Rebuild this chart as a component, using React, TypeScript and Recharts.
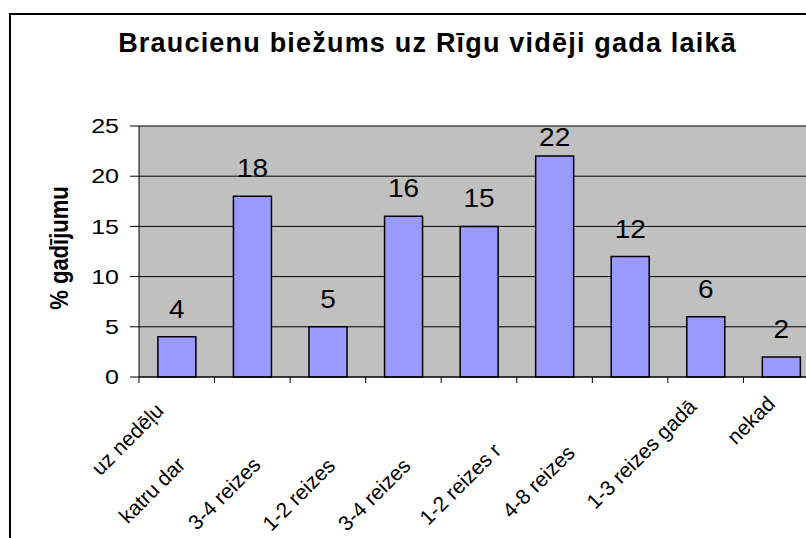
import React from 'react';
import { BarChart, Bar, XAxis, YAxis, CartesianGrid, LabelList } from 'recharts';

const title = 'Braucienu biežums uz Rīgu vidēji gada laikā';
const yAxisTitle = '% gadījumu';
const categories = [
  'uz nedēļu',
  'katru dar',
  '3-4 reizes',
  '1-2 reizes',
  '3-4 reizes',
  '1-2 reizes r',
  '4-8 reizes',
  '1-3 reizes gadā',
  'nekad',
];
const values = [4, 18, 5, 16, 15, 22, 12, 6, 2];
const yTicks = [0, 5, 10, 15, 20, 25];

const data = categories.map((c, i) => ({ key: 'c' + i, label: c, value: values[i] }));

// layout / style constants
const FONT = '"Liberation Sans", Arial, sans-serif';
const PLOT_TOP = 126;
const LABEL_SHIFT = [12, 66, 66, 67, 67, 52, 54, 8, 5];
const VAL_FONT = 25;
const VAL_STRETCH = 1.12;
const TICK_FONT = 20;
const TICK_STRETCH = 1.25;

const XTick = (props: any) => {
  const { x, y, payload, index } = props;
  const i = typeof index === 'number' ? index : 0;
  const half = payload && typeof payload.offset === 'number' && payload.offset > 0 ? payload.offset : 37.78;
  const axisY = y - 8;
  const k = LABEL_SHIFT[i] ?? 0;
  const ax = x - k;
  const ay = axisY + 23 + k;
  return (
    <g>
      <line x1={x - half} x2={x - half} y1={axisY} y2={axisY + 6} stroke="#000" strokeWidth={1} />
      {i === categories.length - 1 && (
        <line x1={x + half} x2={x + half} y1={axisY} y2={axisY + 6} stroke="#000" strokeWidth={1} />
      )}
      <text
        x={ax}
        y={ay}
        transform={`rotate(-45 ${ax} ${ay})`}
        textAnchor="end"
        fontSize={21}
        fontFamily={FONT}
        fill="#000"
      >
        {categories[i]}
      </text>
    </g>
  );
};

const YTick = (props: any) => {
  const { x, y, payload } = props;
  return (
    <text
      transform={`translate(${x} ${y}) scale(${TICK_STRETCH} 1)`}
      x={0}
      y={0}
      dy="0.355em"
      textAnchor="end"
      fontSize={TICK_FONT}
      fontFamily={FONT}
      fill="#000"
    >
      {payload ? payload.value : ''}
    </text>
  );
};

const ValueLabel = (props: any) => {
  const { x, y, width, value } = props;
  const cx = Number(x) + Number(width) / 2;
  const base = Math.max(Number(y) - 19, PLOT_TOP + 20);
  return (
    <text
      transform={`translate(${cx} ${base}) scale(${VAL_STRETCH} 1)`}
      x={0}
      y={0}
      textAnchor="middle"
      fontSize={VAL_FONT}
      fontFamily={FONT}
      fill="#000"
    >
      {value}
    </text>
  );
};

export default function App() {
  return (
    <div
      style={{
        position: 'absolute',
        left: 0,
        top: 0,
        width: 806,
        height: 538,
        overflow: 'hidden',
        background: '#fff',
        fontFamily: FONT,
      }}
    >
      <div
        style={{
          position: 'absolute',
          left: 9,
          top: 13,
          width: 1000,
          height: 1000,
          border: '2px solid #000',
          boxSizing: 'border-box',
        }}
      />
      <div
        style={{
          position: 'absolute',
          left: 0,
          top: 30,
          width: 855,
          textAlign: 'center',
          fontSize: 27,
          lineHeight: '27px',
          fontWeight: 'bold',
          letterSpacing: 1.2,
          whiteSpace: 'nowrap',
          color: '#000',
        }}
      >
        {title}
      </div>
      <div
        style={{
          position: 'absolute',
          left: 60,
          top: 248,
          transform: 'translate(-50%, -50%) rotate(-90deg) scale(1, 1.2)',
          fontSize: 22,
          fontWeight: 'bold',
          whiteSpace: 'nowrap',
          color: '#000',
          lineHeight: '26px',
        }}
      >
        {yAxisTitle}
      </div>
      <div style={{ position: 'absolute', left: 0, top: 0 }}>
        <BarChart
          width={830}
          height={538}
          data={data}
          margin={{ top: PLOT_TOP, right: 11, bottom: 0, left: 20 }}
          barCategoryGap="25%"
        >
          <CartesianGrid vertical={false} stroke="#000" strokeWidth={1} fill="#C0C0C0" fillOpacity={1} />
          <XAxis
            dataKey="key"
            height={161}
            interval={0}
            tickLine={false}
            tickSize={6}
            tickMargin={2}
            axisLine={{ stroke: '#000', strokeWidth: 1 }}
            tick={<XTick />}
          />
          <YAxis
            width={119}
            domain={[0, 25]}
            ticks={yTicks}
            interval={0}
            tickSize={9}
            tickMargin={11}
            axisLine={{ stroke: '#000', strokeWidth: 1 }}
            tickLine={{ stroke: '#000', strokeWidth: 1 }}
            tick={<YTick />}
          />
          <Bar dataKey="value" fill="#9999FF" stroke="#000" strokeWidth={1.5} isAnimationActive={false}>
            <LabelList dataKey="value" content={<ValueLabel />} />
          </Bar>
        </BarChart>
      </div>
    </div>
  );
}
